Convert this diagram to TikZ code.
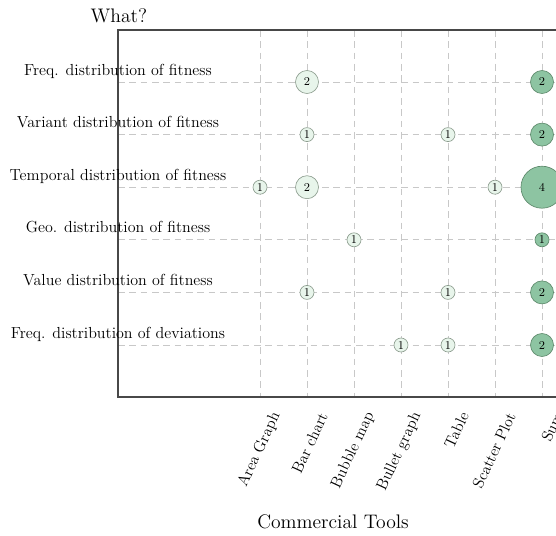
\documentclass[tikz,border=0pt]{standalone}
\definecolor{lightfill}{HTML}{E8F5EB}
\definecolor{lightdraw}{HTML}{8E9E90}
\definecolor{sumfill}{HTML}{8DC4A2}
\definecolor{sumdraw}{HTML}{5E8A6C}
\definecolor{gridc}{HTML}{C8C8C8}
\definecolor{axisc}{HTML}{484848}
\tikzset{
  bub/.style={circle, inner sep=0pt, font=\fontsize{9}{10}\selectfont, line width=0.5pt},
  light/.style={bub, fill=lightfill, draw=lightdraw},
  sumb/.style={bub, fill=sumfill, draw=sumdraw},
  sa/.style={minimum size=10.5pt},
  sb/.style={minimum size=17.25pt},
  sd/.style={minimum size=31.5pt},
  gridline/.style={draw=gridc, line width=0.6pt, dash pattern=on 5pt off 3.5pt},
  axisline/.style={draw=axisc, line width=0.8pt},
  rowlabel/.style={anchor=base, font=\fontsize{12}{14}\selectfont, inner sep=0pt},
  ticklabel/.style={anchor=east, rotate=65, font=\fontsize{11.8}{14}\selectfont, inner sep=1pt},
  title/.style={font=\fontsize{14.7}{17}\selectfont, inner sep=0pt}
}
\begin{document}
\begin{tikzpicture}[x=0.75pt, y=-0.75pt]
\useasboundingbox (0,0) rectangle (556,535);
\clip (0,0) rectangle (556,535);
% grid
\foreach \c in {260,307,354,401,448,495,542}{
  \draw[gridline] (\c,30) -- (\c,397);
}
\foreach \r in {82,134.6,187.2,239.8,292.4,345}{
  \draw[gridline] (118,\r) -- (600,\r);
}
% axes
\coordinate (tl) at (118,30);
\coordinate (bl) at (118,397);
\coordinate (tr) at (600,30);
\coordinate (br) at (600,397);
\draw[axisline] (tr) -- (tl) -- (bl) -- (br);
% titles
\node[title, anchor=base] (what) at (119,23) {What?};
\node[title, anchor=base] (xtitle) at (333,528) {Commercial Tools};
% row labels
\node[rowlabel] (r1) at (118,75) {Freq. distribution of fitness};
\node[rowlabel] (r2) at (118,127.6) {Variant distribution of fitness};
\node[rowlabel] (r3) at (118,180.2) {Temporal distribution of fitness};
\node[rowlabel] (r4) at (118,232.8) {Geo. distribution of fitness};
\node[rowlabel] (r5) at (118,285.4) {Value distribution of fitness};
\node[rowlabel] (r6) at (118,338) {Freq. distribution of deviations};
% tick labels
\node[ticklabel] (t1) at (277,412) {Area Graph};
\node[ticklabel] (t2) at (324,412) {Bar chart};
\node[ticklabel] (t3) at (371,412) {Bubble map};
\node[ticklabel] (t4) at (418,412) {Bullet graph};
\node[ticklabel] (t5) at (465,412) {Table};
\node[ticklabel] (t6) at (512,412) {Scatter Plot};
\node[ticklabel] (t7) at (559,412) {Sum};
% bubbles row 1
\node[light, sb] (b12) at (307,82) {2};
\node[sumb, sb] (s1) at (542,82) {2};
% row 2
\node[light, sa] (b22) at (307,134.6) {1};
\node[light, sa] (b25) at (448,134.6) {1};
\node[sumb, sb] (s2) at (542,134.6) {2};
% row 3
\node[light, sa] (b31) at (260,187.2) {1};
\node[light, sb] (b32) at (307,187.2) {2};
\node[light, sa] (b36) at (495,187.2) {1};
\node[sumb, sd] (s3) at (542,187.2) {4};
% row 4
\node[light, sa] (b43) at (354,239.8) {1};
\node[sumb, sa] (s4) at (542,239.8) {1};
% row 5
\node[light, sa] (b52) at (307,292.4) {1};
\node[light, sa] (b55) at (448,292.4) {1};
\node[sumb, sb] (s5) at (542,292.4) {2};
% row 6
\node[light, sa] (b64) at (401,345) {1};
\node[light, sa] (b65) at (448,345) {1};
\node[sumb, sb] (s6) at (542,345) {2};
\end{tikzpicture}
\end{document}
